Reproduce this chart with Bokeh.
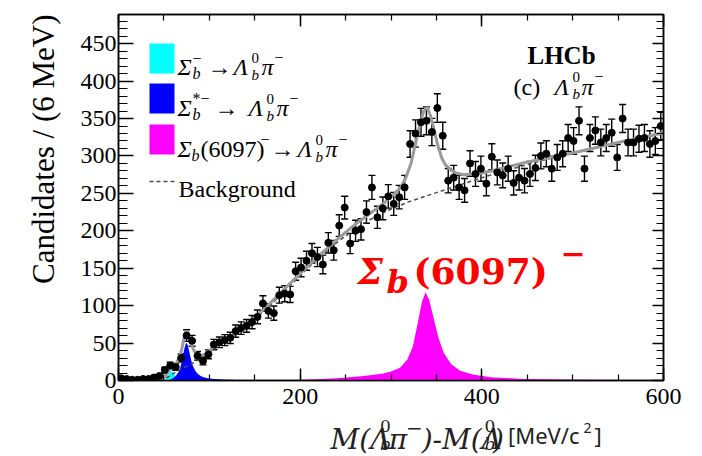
import numpy as np
from bokeh.plotting import figure
from bokeh.layouts import column
from bokeh.models import (Range1d, LinearAxis, FixedTicker, Label, Whisker, TeeHead,
                          ColumnDataSource, BoxAnnotation, Arrow, Title, CustomJSTickFormatter)
from bokeh.embed import file_html
from bokeh.resources import INLINE

# ---------------- data ----------------
bin_centers = list(np.arange(3, 600, 6))  # 6 MeV bins
counts = [3, 2, 1, 1, 2, 2, 4, 6,
          14, 20, 18, 30, 60, 53, 33, 26, 35,
          48, 51, 54, 57, 66, 70, 73, 78, 85,
          103, 93, 90, 114, 116, 115, 146, 151, 160, 170, 165, 155,
          184, 174, 207, 231, 183, 200, 202, 225, 258, 218, 230, 246, 236, 245, 258,
          316, 330, 345, 347, 332, 364, 327, 267, 271, 258, 254, 290, 276, 283, 263, 299, 278,
          274, 283, 264, 271, 267, 276, 284, 300, 303, 283, 298, 303, 324, 320, 347, 283,
          324, 334, 318, 324, 331, 298, 350, 318, 318, 323, 324, 316, 320, 340]

# fit components
cyan_x = [50, 53, 55, 57, 58, 59, 61, 63, 65, 68, 72, 80, 90]
cyan_y = [0, 3, 8, 12, 13, 12, 9, 6, 4, 2.5, 1.5, 0.7, 0.3]

blue_x = [55, 60, 63, 66, 68, 70, 72, 74, 75, 76, 78, 80, 82, 85, 88, 92, 97, 105, 115, 130, 150]
blue_y = [0, 3, 6, 11, 17, 27, 40, 49, 50, 48, 38, 27, 19, 12, 8, 5, 3.2, 2, 1.2, 0.6, 0.3]

mag_x = [200, 240, 270, 290, 300, 310, 318, 324, 330, 334, 338, 342, 346, 352, 358, 366, 376,
         390, 410, 440, 480, 520, 560, 600]
mag_y = [0.8, 3, 6, 9, 12, 17, 28, 45, 80, 105, 118, 108, 88, 58, 37, 22, 13,
         8, 4.5, 2.5, 1.5, 1, 0.7, 0.5]

bkg_x = [45, 50, 55, 60, 70, 80, 90, 100, 110, 120, 130, 140, 150, 160, 170, 180, 190, 200,
         210, 220, 230, 240, 250, 260, 270, 280, 290, 300, 310, 320, 330, 340, 350, 360, 370,
         380, 390, 400, 420, 440, 460, 480, 500, 520, 540, 560, 580, 600]
bkg_y = [0, 2, 5, 9, 16, 22, 29, 37, 46, 53, 62, 71, 81, 92, 104, 116, 128, 140,
         152, 163, 174, 184, 193, 202, 210, 217, 223, 229, 234, 239, 243, 247, 251, 255, 259,
         263, 267, 271, 278, 285, 292, 298, 303, 309, 315, 320, 325, 330]

tot_x = [0, 40, 46, 50, 53, 56, 58, 60, 62, 64, 66, 68, 70, 72, 74, 76, 78, 80, 83, 86, 90,
         95, 100, 110, 120, 140, 160, 180, 200, 220, 240, 260, 280, 290, 300, 310, 316, 322,
         328, 332, 336, 340, 344, 348, 352, 356, 360, 366, 372, 380, 390, 400, 420, 450, 500,
         550, 600]
tot_y = [0.5, 1, 2, 4, 8, 14, 19, 22, 22, 24, 29, 35, 44, 56, 65, 66, 58, 49, 40, 35, 33,
         35, 40, 49, 55, 74, 95, 119, 143, 166, 188, 208, 226, 235, 245, 257, 270, 290,
         322, 343, 360, 365, 352, 332, 312, 297, 288, 281, 277, 275, 276, 277, 283, 292, 304,
         318, 331]

x_major = [0, 200, 400, 600]
y_major = list(range(0, 451, 50))

# ---------------- figure ----------------
TOPB, LEFTB, BOTB, RIGHTB = 14, 118, 37, 31
MAIN_W = LEFTB + 545 + RIGHTB
MAIN_H = TOPB + 366 + BOTB
p = figure(width=MAIN_W, height=MAIN_H, output_backend="svg", toolbar_location=None,
           x_range=Range1d(0, 600), y_range=Range1d(0, 489),
           min_border_left=LEFTB, min_border_right=RIGHTB, min_border_top=TOPB,
           min_border_bottom=BOTB)
p.xgrid.visible = False
p.ygrid.visible = False
p.outline_line_color = "black"
p.outline_line_width = 1.5
p.background_fill_color = "white"
p.border_fill_color = "white"

xt = FixedTicker(ticks=x_major, minor_ticks=list(range(0, 601, 50)))
yt = FixedTicker(ticks=y_major, minor_ticks=list(range(0, 490, 10)))
blank = CustomJSTickFormatter(code="return ''")


def style_axis(ax, maj, mnr, labels=True):
    ax.axis_line_color = "black"
    ax.axis_line_width = 1.5
    ax.major_tick_line_width = 1.5
    ax.minor_tick_line_width = 1.2
    ax.major_tick_in = maj
    ax.major_tick_out = 0
    ax.minor_tick_in = mnr
    ax.minor_tick_out = 0
    if labels:
        ax.major_label_text_font = "Liberation Serif"
        ax.major_label_text_font_size = "24px"
        ax.major_label_text_color = "black"
    else:
        ax.formatter = blank
        ax.major_label_standoff = 0


p.xaxis.ticker = xt
p.yaxis.ticker = yt
style_axis(p.xaxis[0], 12, 6)
style_axis(p.yaxis[0], 15, 9)
p.xaxis.major_label_standoff = 8
p.yaxis.major_label_standoff = 2

top = LinearAxis(ticker=xt)
style_axis(top, 12, 6, labels=False)
p.add_layout(top, "above")
right = LinearAxis(ticker=yt)
style_axis(right, 11, 7, labels=False)
p.add_layout(right, "right")

# y axis title
p.add_layout(Title(text="Candidates / (6 MeV)", align="right", text_font="Liberation Serif",
                   text_font_size="31px", text_font_style="normal", text_color="black",
                   standoff=33), "left")

# ---------------- glyphs ----------------
p.varea(x=cyan_x, y1=0, y2=cyan_y, fill_color="#00ffff")
p.varea(x=blue_x, y1=0, y2=blue_y, fill_color="#0000ff")
p.varea(x=mag_x, y1=0, y2=mag_y, fill_color="#ff00ff")
p.line(bkg_x, bkg_y, line_color="#4d4d4d", line_width=1.5, line_dash="4 3")
p.line(tot_x, tot_y, line_color="#9a9a9a", line_width=3)

cnt = np.array(counts, dtype=float)
err = np.sqrt(np.maximum(cnt, 1.0))
src = ColumnDataSource(dict(x=bin_centers, y=counts, lo=cnt - err, hi=cnt + err))
p.add_layout(Whisker(source=src, base="x", lower="lo", upper="hi", line_color="black",
                     line_width=1.4,
                     upper_head=TeeHead(size=7, line_width=1.4, line_color="black"),
                     lower_head=TeeHead(size=7, line_width=1.4, line_color="black")))
p.scatter("x", "y", source=src, size=7, color="black")


# ---------------- helpers for positioning texts in the frame ----------------
def dx(px):
    return (px - 118) * 600.0 / 545.0


def dy(py):
    return (380 - py) * 489.0 / 366.0


def txt(fig, x, y, s, size, font="Liberation Serif", style="normal", color="black",
        align="left", angle=0):
    fig.add_layout(Label(x=x, y=y, text=s, text_font=font,
                         text_font_size=f"{size}px", text_font_style=style, text_color=color,
                         text_align=align, text_baseline="alphabetic", angle=angle))


def ptxt(px, py, s, size, **kw):
    txt(p, dx(px), dy(py), s, size, **kw)


# legend swatches
for (t, b, c) in [(43, 73, "#00ffff"), (83, 113, "#0000ff"), (124, 154, "#ff00ff")]:
    p.add_layout(BoxAnnotation(left=dx(149), right=dx(174), top=dy(t), bottom=dy(b),
                               fill_color=c, fill_alpha=1, line_color=None))
p.add_layout(Arrow(end=None, x_start=dx(149), x_end=dx(175), y_start=dy(181), y_end=dy(181),
                   line_color="#4d4d4d", line_width=1.5, line_dash="4 3"))

# legend texts
IT = "italic"
for (px, py, s, sz, st) in [
        (177, 66, "Σ", 24, IT), (192, 73, "b", 16, IT), (192, 58, "−", 16, "normal"),
        (207, 66, "→", 24, "normal"), (233, 66, "Λ", 24, IT), (251, 57, "0", 15, "normal"),
        (251, 74, "b", 15, IT), (261, 66, "π", 24, IT), (274, 57, "−", 16, "normal"),
        (177, 107, "Σ", 24, IT), (192, 114, "b", 16, IT), (192, 98, "*−", 16, "normal"),
        (214, 107, "→", 24, "normal"), (248, 107, "Λ", 24, IT), (266, 98, "0", 15, "normal"),
        (266, 115, "b", 15, IT), (276, 107, "π", 24, IT), (289, 98, "−", 16, "normal"),
        (177, 148, "Σ", 24, IT), (191, 155, "b", 16, IT), (200, 148, "(6097)", 24, "normal"),
        (260, 139, "−", 16, "normal"), (270, 148, "→", 24, "normal"), (297, 148, "Λ", 24, IT),
        (315, 139, "0", 15, "normal"), (315, 156, "b", 15, IT), (325, 148, "π", 24, IT),
        (338, 139, "−", 16, "normal"),
        (178, 188, "Background", 24, "normal")]:
    ptxt(px, py, s, sz, style=st)

# LHCb label
ptxt(527, 55, "LHCb", 25, style="bold")
for (px, py, s, sz, st) in [(513, 86, "(c)", 24, "normal"), (554, 86, "Λ", 24, IT),
                            (572, 76, "0", 15, "normal"), (572, 93, "b", 15, IT),
                            (581, 86, "π", 24, IT), (594, 76, "−", 16, "normal")]:
    ptxt(px, py, s, sz, style=st)

# red annotation
RED = "#ff0000"
ptxt(357, 270, "Σ", 36, font="DejaVu Serif", style="bold italic", color=RED)
ptxt(386, 281, "b", 32, font="DejaVu Serif", style="bold italic", color=RED)
ptxt(413, 270, "(6097)", 36, font="DejaVu Serif", style="bold", color=RED)
ptxt(560, 252, "−", 30, font="DejaVu Serif", style="bold", color=RED)

# ---------------- x axis title (transparent strip below the chart) ----------------
PULL = 15      # pull the strip up (transparent, overlaps the empty border)
LIFT = 10      # raise the title so that it sits fully inside the window
STRIP_TOP = MAIN_H - PULL
XH = 456 - STRIP_TOP
xf = figure(width=MAIN_W, height=XH, x_range=Range1d(0, MAIN_W), y_range=Range1d(XH, 0),
            x_axis_type=None, y_axis_type=None, min_border=0, output_backend="svg",
            toolbar_location=None, margin=(-PULL, 0, 0, 0))
xf.outline_line_color = None
xf.background_fill_color = None
xf.border_fill_color = None
xf.xgrid.visible = False
xf.ygrid.visible = False


def xtxt(px, py, s, size, **kw):
    txt(xf, px, py - LIFT - STRIP_TOP, s, size, **kw)


XL = "#222222"
xtxt(270, 449, "M(Λ", 28, font="DejaVu Serif", style="italic", color=XL)
xtxt(333, 435, "0", 17, font="DejaVu Serif", color=XL)
xtxt(333, 453, "b", 17, font="DejaVu Serif", style="italic", color=XL)
xtxt(344, 449, "π", 28, font="DejaVu Serif", style="italic", color=XL)
xtxt(366, 437, "−", 20, font="DejaVu Serif", color=XL)
xtxt(386, 449, ")-M(Λ", 28, font="DejaVu Serif", style="italic", color=XL)
xtxt(466, 435, "0", 17, font="DejaVu Serif", color=XL)
xtxt(466, 453, "b", 17, font="DejaVu Serif", style="italic", color=XL)
xtxt(477, 449, ")", 28, font="DejaVu Serif", style="italic", color=XL)
xtxt(496, 444, "[MeV/c", 22, font="Noto Sans", color=XL)
xtxt(592, 437, "2", 14, font="Noto Sans", color=XL)
xtxt(606, 444, "]", 22, font="Noto Sans", color=XL)

layout = column(p, xf, spacing=0)
open("out.html", "w").write(file_html(layout, INLINE))
